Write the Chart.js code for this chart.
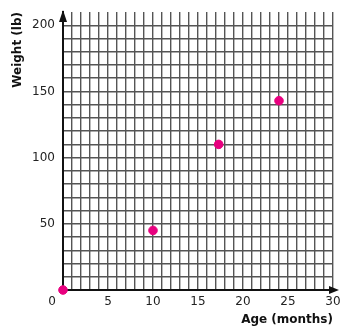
<!DOCTYPE html>
<html>
<head>
<meta charset="utf-8">
<script src="https://cdn.jsdelivr.net/npm/chart.js@4"></script>
<style>
  html, body { margin: 0; padding: 0; background: #fff; }
  #wrap { width: 340px; height: 327px; }
</style>
</head>
<body>
<div id="wrap"><canvas id="c" width="340" height="327"></canvas></div>
<script>
// Age (months) and weight (lb) readings
const ageMonths = [0, 10, 17.3, 24];
const weightLb = [0, 45, 110, 143];

const xTickLabels = [5, 10, 15, 20, 25, 30];
const yTickLabels = [50, 100, 150, 200];

const xTitle = 'Age (months)';
const yTitle = 'Weight (lb)';

const FONT = 'DejaVu Sans';
const GRID = '#555555';
const AXIS = '#111111';

const points = ageMonths.map((a, i) => ({ x: a, y: weightLb[i] }));

// Arrowheads on both axes plus the shared "0" at the origin
const axisDecor = {
  id: 'axisDecor',
  afterDraw(chart) {
    const { ctx, chartArea, scales } = chart;
    const x0 = scales.x.getPixelForValue(0);
    const y0 = scales.y.getPixelForValue(0);
    ctx.save();
    ctx.fillStyle = AXIS;
    ctx.strokeStyle = AXIS;
    ctx.lineWidth = 2;
    // x axis runs past the last month into an arrow
    ctx.beginPath();
    ctx.moveTo(chartArea.right - 1, y0);
    ctx.lineTo(chart.width - 4, y0);
    ctx.stroke();
    ctx.beginPath();
    ctx.moveTo(chart.width - 1, y0);
    ctx.lineTo(chart.width - 11, y0 - 4);
    ctx.lineTo(chart.width - 11, y0 + 4);
    ctx.closePath();
    ctx.fill();
    // y axis arrow
    ctx.beginPath();
    ctx.moveTo(x0, chartArea.top - 2);
    ctx.lineTo(x0 - 4, chartArea.top + 10);
    ctx.lineTo(x0 + 4, chartArea.top + 10);
    ctx.closePath();
    ctx.fill();
    // origin label
    ctx.font = '12px "' + FONT + '"';
    ctx.fillStyle = '#222';
    ctx.textAlign = 'center';
    ctx.textBaseline = 'middle';
    ctx.fillText('0', x0 - 11, y0 + 12);
    ctx.restore();
  }
};

new Chart(document.getElementById('c'), {
  type: 'scatter',
  data: {
    datasets: [{
      data: points,
      backgroundColor: '#e8007f',
      borderColor: '#e8007f',
      pointRadius: 4.3,
      pointHoverRadius: 4.3,
      clip: false
    }]
  },
  options: {
    responsive: false,
    animation: false,
    events: [],
    layout: { padding: { top: 12, right: 7, left: 0, bottom: 0 } },
    plugins: { legend: { display: false }, tooltip: { enabled: false } },
    scales: {
      x: {
        type: 'linear',
        min: 0,
        max: 30,
        afterFit(scale) { scale.height = 37; scale.paddingRight = 0; scale.paddingLeft = 0; },
        ticks: {
          stepSize: 1,
          autoSkip: false,
          maxRotation: 0,
          padding: 5,
          color: '#222',
          font: { family: FONT, size: 12 },
          callback: (v) => xTickLabels.includes(v) ? String(v) : ''
        },
        grid: {
          color: (c) => c.tick && c.tick.value === 0 ? 'rgba(0,0,0,0)' : GRID,
          lineWidth: 1.4,
          drawTicks: false
        },
        border: { display: true, color: AXIS, width: 2 },
        title: {
          display: true,
          text: xTitle,
          align: 'end',
          color: '#111',
          font: { family: FONT, size: 12, weight: 'bold' },
          padding: { top: 0, bottom: 0 }
        }
      },
      y: {
        type: 'linear',
        min: 0,
        max: 210,
        afterFit(scale) { scale.width = 63; scale.paddingTop = 0; scale.paddingBottom = 0; },
        ticks: {
          stepSize: 10,
          autoSkip: false,
          padding: 8,
          color: '#222',
          font: { family: FONT, size: 12 },
          callback: (v) => yTickLabels.includes(v) ? String(v) : ''
        },
        grid: {
          color: (c) => c.tick && (c.tick.value === 0 || c.tick.value === 210) ? 'rgba(0,0,0,0)' : GRID,
          lineWidth: 1.4,
          drawTicks: false
        },
        border: { display: true, color: AXIS, width: 2 },
        title: {
          display: true,
          text: yTitle,
          align: 'end',
          color: '#111',
          font: { family: FONT, size: 12, weight: 'bold' },
          padding: { top: 11, bottom: 0 }
        }
      }
    }
  },
  plugins: [axisDecor]
});
</script>
</body>
</html>
